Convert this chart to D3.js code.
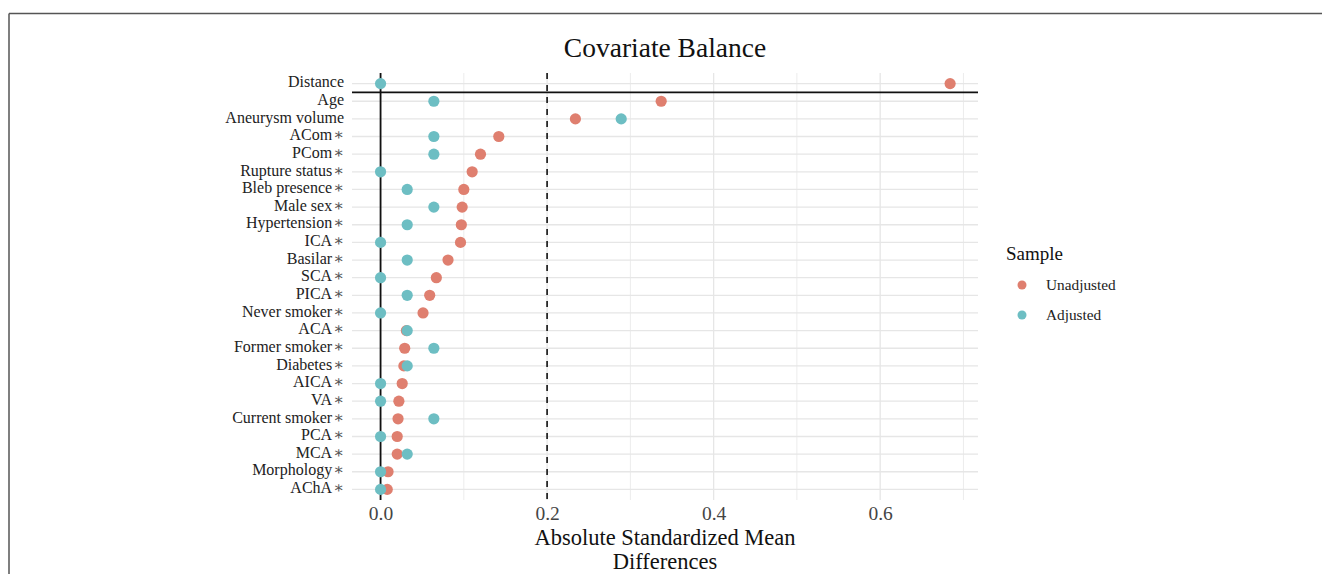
<!DOCTYPE html>
<html>
<head>
<meta charset="utf-8">
<script src="https://cdn.jsdelivr.net/npm/d3@7"></script>
<style>
  html, body { margin: 0; padding: 0; background: #fff; }
  svg text { font-family: "Liberation Serif", "Times New Roman", serif; }
</style>
</head>
<body>
<svg id="chart" width="1322" height="574"></svg>
<script>
const covariates = ["Distance","Age","Aneurysm volume","ACom\u2217","PCom\u2217","Rupture status\u2217","Bleb presence\u2217","Male sex\u2217","Hypertension\u2217","ICA\u2217","Basilar\u2217","SCA\u2217","PICA\u2217","Never smoker\u2217","ACA\u2217","Former smoker\u2217","Diabetes\u2217","AICA\u2217","VA\u2217","Current smoker\u2217","PCA\u2217","MCA\u2217","Morphology\u2217","AChA\u2217"];
const unadjusted = [0.684,0.337,0.234,0.142,0.120,0.110,0.100,0.098,0.097,0.096,0.081,0.067,0.059,0.051,0.031,0.029,0.028,0.026,0.022,0.021,0.020,0.020,0.009,0.008];
const adjusted   = [0.000,0.064,0.289,0.064,0.064,0.000,0.032,0.064,0.032,0.000,0.032,0.000,0.032,0.000,0.032,0.064,0.032,0.000,0.000,0.064,0.000,0.032,0.000,0.000];
const xMajorTicks = [0, 0.2, 0.4, 0.6];
const xMinorTicks = [0.1, 0.3, 0.5, 0.7];
const seriesNames = ["Unadjusted","Adjusted"];
const seriesColors = ["#DF7F6F","#6DBEC3"];
const threshold = 0.2;

const svg = d3.select("#chart");

// outer frame (top and left edges)
svg.append("line").attr("x1",9).attr("x2",1322).attr("y1",13.5).attr("y2",13.5).attr("stroke","#555").attr("stroke-width",1.5);
svg.append("line").attr("x1",9).attr("x2",9).attr("y1",13.5).attr("y2",574).attr("stroke","#555").attr("stroke-width",1.5);

const panel = {left: 352, right: 978, top: 73, bottom: 500};

const x = d3.scaleLinear().domain([-0.0343, 0.7175]).range([panel.left, panel.right]);
const y = d3.scalePoint().domain(covariates).range([panel.top, panel.bottom]).padding(0.6);

const g = svg.append("g");

// gridlines
g.selectAll(".vminor").data(xMinorTicks).enter().append("line")
  .attr("x1", d => x(d)).attr("x2", d => x(d)).attr("y1", panel.top).attr("y2", panel.bottom)
  .attr("stroke", "#ececec").attr("stroke-width", 1);
g.selectAll(".vmajor").data(xMajorTicks).enter().append("line")
  .attr("x1", d => x(d)).attr("x2", d => x(d)).attr("y1", panel.top).attr("y2", panel.bottom)
  .attr("stroke", "#e6e6e6").attr("stroke-width", 1.3);
g.selectAll(".hgrid").data(covariates).enter().append("line")
  .attr("x1", panel.left).attr("x2", panel.right).attr("y1", d => y(d)).attr("y2", d => y(d))
  .attr("stroke", "#e6e6e6").attr("stroke-width", 1.3);

// reference lines
g.append("line").attr("x1", x(0)).attr("x2", x(0)).attr("y1", panel.top).attr("y2", panel.bottom)
  .attr("stroke", "#111").attr("stroke-width", 1.8);
g.append("line").attr("x1", x(threshold)).attr("x2", x(threshold)).attr("y1", panel.top).attr("y2", panel.bottom)
  .attr("stroke", "#111").attr("stroke-width", 1.6).attr("stroke-dasharray", "6,6");
const sepY = (y(covariates[0]) + y(covariates[1])) / 2;
g.append("line").attr("x1", panel.left).attr("x2", panel.right).attr("y1", sepY).attr("y2", sepY)
  .attr("stroke", "#111").attr("stroke-width", 1.8);

// points
const series = [unadjusted, adjusted];
series.forEach((vals, si) => {
  g.selectAll(".pt" + si).data(covariates.map((c, i) => ({c, v: vals[i]}))).enter().append("circle")
    .attr("cx", d => x(d.v)).attr("cy", d => y(d.c)).attr("r", 5.6)
    .attr("fill", seriesColors[si]);
});

// y labels
const yAxis = d3.axisLeft(y).tickSize(0).tickPadding(8);
const ya = svg.append("g").attr("transform", `translate(${panel.left},0)`).call(yAxis);
ya.select(".domain").remove();
ya.selectAll("text").each(function(d) {
  const t = d3.select(this);
  t.text(null).attr("font-size", 16).attr("fill", "#222").attr("dy", "0.2em")
    .style("font-family", '"Liberation Serif", serif');
  const star = d.endsWith("\u2217");
  const base = star ? d.slice(0, -1) : d;
  t.append("tspan").text(base);
  if (star) t.append("tspan").attr("dx", 1).attr("fill", "#555").attr("font-size", 16)
    .style("font-family", '"DejaVu Serif", serif').text("\u2217");
});

// x axis
const xAxis = d3.axisBottom(x).tickValues(xMajorTicks).tickSize(0).tickPadding(6).tickFormat(d3.format(".1f"));
const xa = svg.append("g").attr("transform", `translate(0,${panel.bottom})`).call(xAxis);
xa.select(".domain").remove();
xa.selectAll("text").attr("font-size", 19.5).attr("fill", "#444")
  .style("font-family", '"Liberation Serif", serif');

// axis title
const cx = (panel.left + panel.right) / 2;
svg.append("text").attr("x", cx).attr("y", 544.5).attr("text-anchor", "middle")
  .attr("font-size", 22.5).attr("fill", "#111").text("Absolute Standardized Mean");
svg.append("text").attr("x", cx).attr("y", 569.3).attr("text-anchor", "middle")
  .attr("font-size", 22.5).attr("fill", "#111").text("Differences");

// title
svg.append("text").attr("x", cx).attr("y", 57).attr("text-anchor", "middle")
  .attr("font-size", 27.5).attr("fill", "#111").text("Covariate Balance");

// legend
const lg = svg.append("g");
lg.append("text").attr("x", 1006).attr("y", 260).attr("font-size", 19).attr("fill", "#111").text("Sample");
seriesNames.forEach((n, i) => {
  const ly = 285 + i * 30;
  lg.append("circle").attr("cx", 1022).attr("cy", ly).attr("r", 4.5).attr("fill", seriesColors[i]);
  lg.append("text").attr("x", 1046).attr("y", ly + 5).attr("font-size", 15.3).attr("fill", "#222").text(n);
});
</script>
</body>
</html>
